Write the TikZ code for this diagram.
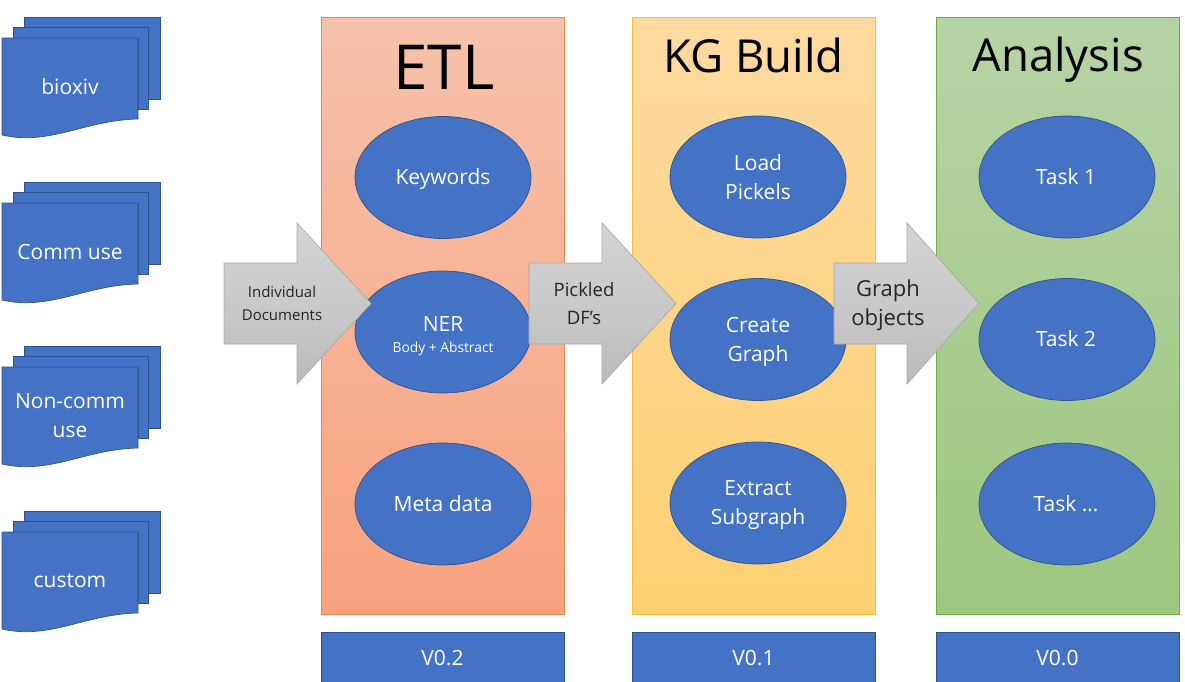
\documentclass[tikz,border=0pt]{standalone}
\usepackage{fontspec}
\setmainfont{Open Sans}
\usetikzlibrary{shapes.geometric}
\definecolor{boxblue}{HTML}{4472C4}
\definecolor{boxedge}{HTML}{2F528F}
\definecolor{etltop}{HTML}{F6C2AB}
\definecolor{etlbottom}{HTML}{F8A27F}
\definecolor{etledge}{HTML}{E08A55}
\definecolor{kgtop}{HTML}{FDDAA0}
\definecolor{kgbottom}{HTML}{FDD073}
\definecolor{kgedge}{HTML}{F2C230}
\definecolor{antop}{HTML}{B6D3A5}
\definecolor{anbottom}{HTML}{9CC77F}
\definecolor{anedge}{HTML}{70AD47}
\begin{document}
\begin{tikzpicture}[x=1pt, y=-1pt,
    page/.style={draw=boxedge, fill=boxblue, line width=0.7pt},
    phase/.style={line width=0.7pt},
    stage/.style={ellipse, draw=boxedge, fill=boxblue, line width=0.7pt, minimum width=176pt, minimum height=122pt, inner sep=0pt},
    stagetext/.style={text=white, align=center, inner sep=0pt, font=\fontsize{21}{29.5}\selectfont},
    version/.style={draw=boxedge, fill=boxblue, line width=0.7pt},
    flow/.style={draw=black!35, line width=0.6pt, top color=black!17, bottom color=black!27, middle color=black!21},
    flowtext/.style={align=center, inner sep=0pt, text=black!85},
    title/.style={inner sep=0pt},
    doclabel/.style={text=white, align=center, inner sep=0pt, font=\fontsize{21}{29.5}\selectfont}]
    \useasboundingbox (0,0) rectangle (1185,681);
    \foreach \docname/\docy/\doctext in {bioxiv/0/bioxiv, comm/165/Comm use, noncomm/329/{Non-comm\\use}, custom/494/custom} {
        \begin{scope}[yshift=-\docy pt]
            \draw [page] (24,17) -- (160,17) -- (160,99) -- (148,99) -- (148,27) -- (24,27) -- cycle;
            \draw [page] (13,27) -- (148,27) -- (148,109) -- (138,109) -- (138,38) -- (13,38) -- cycle;
            \draw [page] (2,38) -- (138,38) -- (138,119) .. controls (85,120) and (50,146) .. (2,135) -- cycle;
            \node [doclabel] (doc\docname) at (70,86.5) {\doctext};
        \end{scope}
    }
    \draw [phase, draw=etledge, top color=etltop, bottom color=etlbottom] (321,17) rectangle (564,614);
    \draw [phase, draw=kgedge, top color=kgtop, bottom color=kgbottom] (632,17) rectangle (875,614);
    \draw [phase, draw=anedge, top color=antop, bottom color=anbottom] (936,17) rectangle (1179,614);
    \node [title, font=\fontsize{62}{66}\selectfont] (etltitle) at (444,67) {ETL};
    \node [title, font=\fontsize{45.5}{48}\selectfont] (kgtitle) at (753.5,55) {KG Build};
    \node [title, font=\fontsize{45.5}{48}\selectfont] (antitle) at (1058,60) {Analysis};
    \node [stage] (keywords) at (443,177.5) {};
    \node [stage] (ner) at (443,332) {};
    \node [stage] (meta) at (443,504) {};
    \node [stage] (load) at (758,177) {};
    \node [stage] (create) at (758,339.5) {};
    \node [stage] (extract) at (758,503) {};
    \node [stage] (task1) at (1067,177) {};
    \node [stage] (task2) at (1067,339.5) {};
    \node [stage] (task3) at (1067,504) {};
    \node [stagetext] (keywordstext) at (443,179) {Keywords};
    \node [stagetext] (nertext) at (443,336) {NER\\[-9pt]{\fontsize{13.8}{15}\selectfont Body + Abstract}};
    \node [stagetext] (metatext) at (443,504) {Meta data};
    \node [stagetext] (loadtext) at (758,177) {Load\\Pickels};
    \node [stagetext] (createtext) at (758,342) {Create\\Graph};
    \node [stagetext] (extracttext) at (758,505) {Extract\\Subgraph};
    \node [stagetext] (task1text) at (1066,177) {Task 1};
    \node [stagetext] (task2text) at (1066,339) {Task 2};
    \node [stagetext] (task3text) at (1066,504) {Task \dots};
    \foreach \flowx/\flowtip in {224/147,529/147,834/145} {
        \draw [flow, xshift=\flowx pt] (0,263) -- (73,263) -- (73,223) -- (\flowtip,303.5) -- (73,384) -- (73,344) -- (0,344) -- cycle;
    }
    \node [flowtext, font=\fontsize{15}{23}\selectfont] (docsflow) at (282,303) {Individual\\Documents};
    \node [flowtext, font=\fontsize{18.5}{28}\selectfont] (dfflow) at (584,304) {Pickled\\DF’s};
    \node [flowtext, font=\fontsize{22}{29}\selectfont] (graphflow) at (888,305) {Graph\\objects};
    \foreach \versx/\versname/\verstext in {321/etl/V0.2, 632/kg/V0.1, 936/an/V0.0} {
        \draw [version, xshift=\versx pt] (0,632) rectangle (243,690);
        \node [text=white, inner sep=0pt, font=\fontsize{21}{24}\selectfont] (ver\versname) at (\versx+121.5,658) {\verstext};
    }
\end{tikzpicture}
\end{document}
